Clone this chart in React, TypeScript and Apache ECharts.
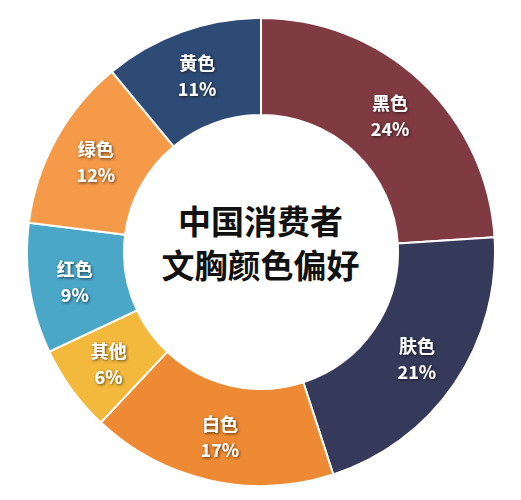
import { useEffect, useRef } from 'react';
import * as echarts from 'echarts';

// 文胸颜色偏好（%），从 12 点方向顺时针
const categories = ['黑色', '肤色', '白色', '其他', '红色', '绿色', '黄色'];
const shares = [24, 21, 17, 6, 9, 12, 11];
const sliceColors = ['#7f3a42', '#363a5a', '#ee8a33', '#f3b93d', '#4aa7c8', '#f59a48', '#2d4b75'];

const FONT = '"Noto Sans CJK SC", "Noto Sans", sans-serif';

export default function App() {
  const chartRef = useRef<HTMLDivElement>(null);

  useEffect(() => {
    if (!chartRef.current) return;
    const chart = echarts.init(chartRef.current, null, { renderer: 'svg' });

    chart.setOption({
      animation: false,
      backgroundColor: '#ffffff',
      title: {
        text: '中国消费者\n文胸颜色偏好',
        left: 'center',
        top: 193,
        textStyle: {
          fontFamily: FONT,
          fontSize: 33,
          fontWeight: 'bold',
          color: '#111111',
          lineHeight: 44,
        },
      },
      series: [
        {
          type: 'pie',
          center: [261, 252],
          radius: [137, 234],
          startAngle: 90,
          clockwise: true,
          silent: true,
          itemStyle: {
            borderColor: '#ffffff',
            borderWidth: 2,
          },
          label: {
            show: true,
            position: 'inside',
            formatter: '{b}\n{c}%',
            fontFamily: FONT,
            fontSize: 18,
            fontWeight: 'bold',
            lineHeight: 26,
            color: '#ffffff',
            textShadowColor: 'rgba(0,0,0,0.65)',
            textShadowBlur: 3,
            textShadowOffsetX: 1,
            textShadowOffsetY: 1,
          },
          labelLine: { show: false },
          data: categories.map((name, i) => ({
            name,
            value: shares[i],
            itemStyle: { color: sliceColors[i] },
          })),
        },
      ],
    });

    return () => {
      chart.dispose();
    };
  }, []);

  return (
    <div
      ref={chartRef}
      style={{ position: 'fixed', left: 0, top: 0, width: 521, height: 500 }}
    />
  );
}
